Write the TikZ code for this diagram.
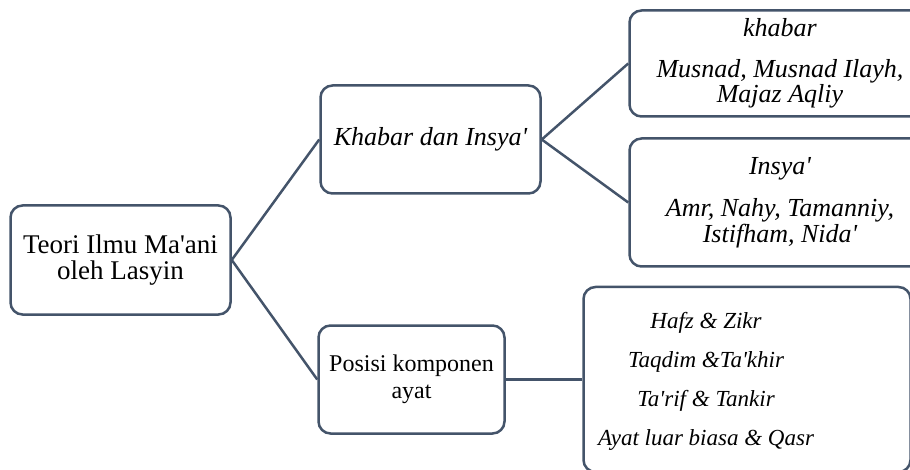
\documentclass[tikz,border=0pt]{standalone}
\usepackage{fontspec}
\setmainfont{Liberation Serif}
\usepackage{xcolor}
\usetikzlibrary{positioning}
\definecolor{slate}{HTML}{44546A}
\newcommand{\apos}{\textquotesingle}

\begin{document}
\begin{tikzpicture}[x=1pt,y=-1pt,
    box/.style={draw=slate, line width=2.5pt, rounded corners=12pt, fill=white,
                align=center, inner sep=0pt},
    link/.style={draw=slate, line width=2.5pt}]
            \useasboundingbox (0,0) rectangle (910,470);
            \clip (0,0) rectangle (910,470);
            % draw the root and the middle boxes
            \node[box, minimum width=220pt, minimum height=109pt,
                  font=\fontsize{27pt}{26pt}\selectfont] (teori) at (120.5,260)
                  {Teori Ilmu Ma\apos ani\\oleh Lasyin};
            \node[box, minimum width=220pt, minimum height=108pt,
                  font=\fontsize{26pt}{26pt}\selectfont\itshape]
                  (khabarinsya) at (430.5,139.5) {Khabar dan Insya\apos};
            \node[box, minimum width=186pt, minimum height=108pt,
                  font=\fontsize{24pt}{27pt}\selectfont] (posisi) at (411.5,379.5)
                  {Posisi komponen\\ayat};
            % draw the right boxes
            \node[box, minimum width=301pt, minimum height=106pt,
                  font=\fontsize{26pt}{25pt}\selectfont\itshape]
                  (khabar) at (780,63.5) {khabar\\[16pt]Musnad, Musnad Ilayh,\\Majaz Aqliy};
            \node[box, minimum width=301pt, minimum height=128pt,
                  font=\fontsize{26pt}{26pt}\selectfont\itshape]
                  (insya) at (780,202.5) {Insya\apos\\[16pt]Amr, Nahy, Tamanniy,\\Istifham, Nida\apos};
            \node[box, minimum width=327pt, minimum height=185pt] (posisiitem) at (747,379.5) {};
            \node[align=center, font=\fontsize{23pt}{39pt}\selectfont\itshape] (posisiteks)
                  at ([xshift=-41pt,yshift=-2pt]posisiitem.center)
                  {Hafz \& Zikr\\Taqdim \&Ta\apos khir\\Ta\apos rif \& Tankir\\Ayat luar biasa \& Qasr};
            % draw the connectors
            \draw[link] (teori.east) -- (khabarinsya.west);
            \draw[link] (teori.east) -- (posisi.west);
            \draw[link] (khabarinsya.east) -- (khabar.west);
            \draw[link] (khabarinsya.east) -- (insya.west);
            \draw[link] (posisi.east) -- (posisiitem.west);
          \end{tikzpicture}
\end{document}
